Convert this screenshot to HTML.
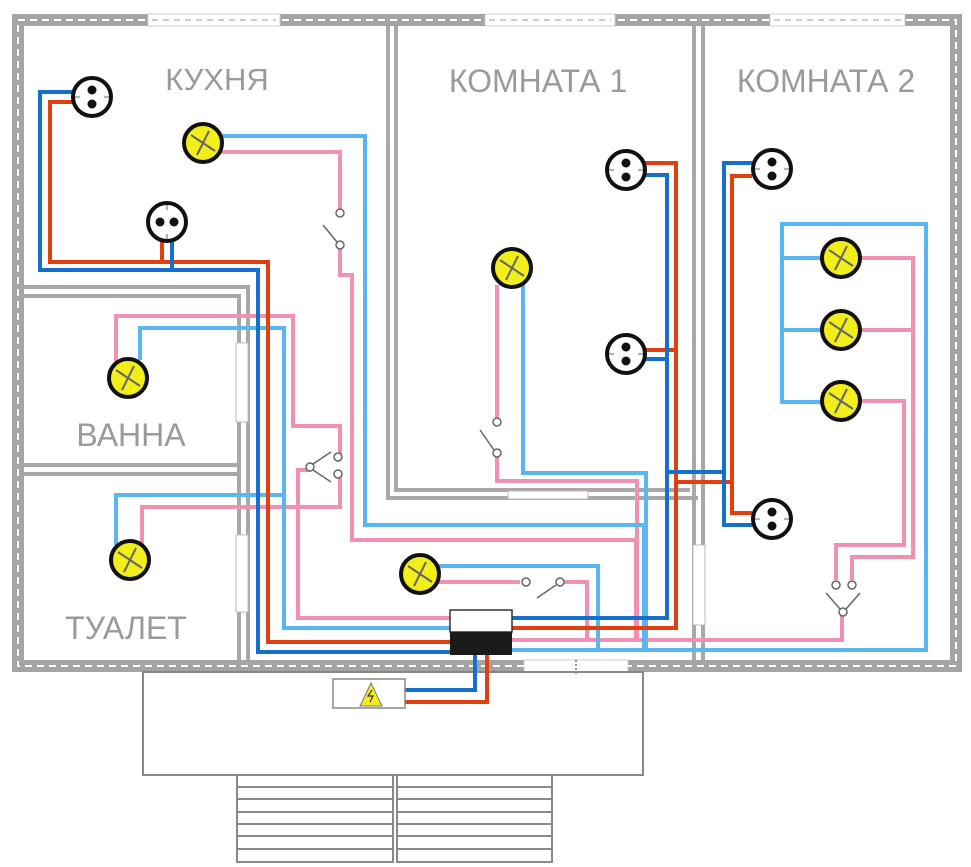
<!DOCTYPE html>
<html><head><meta charset="utf-8"><style>
html,body{margin:0;padding:0;background:#fff;width:971px;height:867px;overflow:hidden}
text{font-family:"Liberation Sans",sans-serif;fill:#9a9a9a}
</style></head><body>
<svg width="971" height="867" viewBox="0 0 971 867" xmlns="http://www.w3.org/2000/svg">
<defs>
<g id="lamp"><circle r="19" fill="#f2ee1a" stroke="#111" stroke-width="4"/><line x1="-12" y1="-8" x2="12" y2="8" stroke="#666" stroke-width="2"/><line x1="-6" y1="12" x2="6" y2="-12" stroke="#666" stroke-width="2"/></g>
<g id="sock"><circle r="19" fill="#fff" stroke="#111" stroke-width="4"/><circle cx="0" cy="-7" r="4.5" fill="#111"/><circle cx="0" cy="7" r="4.5" fill="#111"/><line x1="-17" y1="0" x2="-12" y2="0" stroke="#666"/><line x1="12" y1="0" x2="17" y2="0" stroke="#666"/></g>
<g id="sockh"><circle r="19" fill="#fff" stroke="#111" stroke-width="4"/><circle cx="-7" cy="0" r="4.5" fill="#111"/><circle cx="7" cy="0" r="4.5" fill="#111"/><line x1="0" y1="-17" x2="0" y2="-12" stroke="#666"/><line x1="0" y1="12" x2="0" y2="17" stroke="#666"/></g>
</defs>
<rect x="18" y="20" width="938" height="646" fill="none" stroke="#a4a4a4" stroke-width="12"/>
<rect x="18" y="20" width="938" height="646" fill="none" stroke="#fff" stroke-width="2" stroke-dasharray="7 5"/>
<rect x="148" y="14" width="132" height="12" fill="#fff" stroke="#ccc"/><line x1="152" y1="20" x2="276" y2="20" stroke="#bbb" stroke-width="1.5" stroke-dasharray="6 5"/>
<rect x="485" y="14" width="130" height="12" fill="#fff" stroke="#ccc"/><line x1="489" y1="20" x2="611" y2="20" stroke="#bbb" stroke-width="1.5" stroke-dasharray="6 5"/>
<rect x="770" y="14" width="135" height="12" fill="#fff" stroke="#ccc"/><line x1="774" y1="20" x2="901" y2="20" stroke="#bbb" stroke-width="1.5" stroke-dasharray="6 5"/>
<rect x="524" y="660" width="104" height="12" fill="#fff" stroke="#ccc"/><line x1="576" y1="660" x2="576" y2="675" stroke="#333" stroke-dasharray="2 2"/>
<g fill="none" stroke="#a8a8a8" stroke-width="4">
<path d="M388 26 V498 H698"/><path d="M396 26 V490 H690"/>
<path d="M694 26 V660"/><path d="M703 26 V660"/>
<path d="M24 287 H248 V660"/><path d="M24 296 H239 V660"/>
<path d="M24 465 H239"/><path d="M24 474 H239"/>
</g>
<rect x="508" y="491" width="80" height="8" fill="#fff" stroke="#bbb"/>
<rect x="236" y="343" width="12" height="79" fill="#fff" stroke="#bbb"/>
<rect x="236" y="535" width="12" height="77" fill="#fff" stroke="#bbb"/>
<rect x="693" y="545" width="12" height="80" fill="#fff" stroke="#bbb"/>
<rect x="143" y="672" width="500" height="103" fill="none" stroke="#888" stroke-width="2"/>
<g fill="none" stroke="#888" stroke-width="2">
<rect x="237" y="775" width="156" height="87"/><rect x="397" y="775" width="155" height="87"/>
<path d="M237 787H393M237 799H393M237 812H393M237 824H393M237 836H393M237 849H393M397 787H552M397 799H552M397 812H552M397 824H552M397 836H552M397 849H552"/>
</g>
<text x="217" y="90" font-size="31" text-anchor="middle">КУХНЯ</text>
<text x="538" y="92" font-size="32" text-anchor="middle">КОМНАТА 1</text>
<text x="826" y="92" font-size="32" text-anchor="middle">КОМНАТА 2</text>
<text x="131" y="446" font-size="32" text-anchor="middle">ВАННА</text>
<text x="126" y="639" font-size="32" text-anchor="middle">ТУАЛЕТ</text>
<g fill="none" stroke-width="4" stroke-linejoin="miter">
<g stroke="#f290b4">
<path d="M220 152 H340 V210"/><path d="M340 243 V275 H352 V540 H636 V638"/>
<path d="M116 362 V316 H293 V426 H340 V455"/><path d="M340 475 V507 H142 V545"/>
<path d="M310 470 H298 V618 H450"/>
<path d="M497 285 V420"/><path d="M497 455 V481 H637 V638"/>
<path d="M512 640 H842 V612"/>
<path d="M858 258 H913 V557 H852 V580"/><path d="M858 330 H913"/>
<path d="M858 401 H904 V545 H836 V580"/>
<path d="M436 582 H520"/><path d="M562 582 H587 V640"/>
</g>
<g stroke="#5ab6f2">
<path d="M220 136 H365 V525 H644 V650"/>
<path d="M140 360 V328 H284 V628 H450"/>
<path d="M116 545 V495 H284"/>
<path d="M523 285 V473 H646 V650"/>
<path d="M436 566 H598 V650"/>
<path d="M512 650 H926 V224 H782 V402 H823"/><path d="M782 258 H823"/><path d="M782 330 H823"/>
</g>
<g stroke="#e0400e">
<path d="M73 102 H50 V262 H268 V642 H450"/><path d="M162 240 V262"/>
<path d="M512 628 H676 V163 H645"/><path d="M645 350 H676"/>
<path d="M676 482 H732"/><path d="M752 176 H732 V513 H752"/>
<path d="M487 655 V702 H405"/>
</g>
<g stroke="#1470cc">
<path d="M73 92 H40 V270 H258 V652 H450"/><path d="M172 240 V270"/>
<path d="M512 618 H667 V175 H645"/><path d="M645 359 H667"/>
<path d="M667 472 H724"/><path d="M752 163 H724 V525 H752"/>
<path d="M475 655 V690 H405"/>
</g>
</g>
<g fill="#fff" stroke="#666" stroke-width="1.5">
<circle cx="340" cy="213" r="4"/><circle cx="340" cy="245" r="4"/><line x1="323" y1="225" x2="337" y2="242"/>
<circle cx="497" cy="422" r="4"/><circle cx="497" cy="453" r="4"/><line x1="480" y1="430" x2="494" y2="450"/>
<circle cx="526" cy="582" r="4"/><circle cx="560" cy="582" r="4"/><line x1="537" y1="598" x2="556" y2="585"/>
<circle cx="310" cy="467" r="4"/><circle cx="338" cy="457" r="4"/><circle cx="338" cy="474" r="4"/><line x1="313" y1="464" x2="331" y2="452"/><line x1="313" y1="470" x2="331" y2="482"/>
<circle cx="836" cy="585" r="4"/><circle cx="852" cy="585" r="4"/><circle cx="843" cy="612" r="4"/><line x1="826" y1="593" x2="840" y2="609"/><line x1="860" y1="593" x2="846" y2="609"/>
</g>
<use href="#lamp" x="203" y="143"/><use href="#lamp" x="512" y="268"/><use href="#lamp" x="420" y="574"/>
<use href="#lamp" x="128" y="378"/><use href="#lamp" x="130" y="560"/>
<use href="#lamp" x="841" y="258"/><use href="#lamp" x="841" y="330"/><use href="#lamp" x="841" y="401"/>
<use href="#sock" x="92" y="97"/><use href="#sockh" x="167" y="222"/>
<use href="#sock" x="626" y="170"/><use href="#sock" x="626" y="354"/>
<use href="#sock" x="772" y="169"/><use href="#sock" x="772" y="519"/>
<rect x="450" y="610" width="62" height="22" fill="#fff" stroke="#333" stroke-width="1.5"/>
<rect x="450" y="632" width="62" height="23" fill="#1a1a1a"/>
<rect x="333" y="679" width="72" height="29" fill="#fff" stroke="#888" stroke-width="1.5"/>
<polygon points="371,683 360,706 382,706" fill="#f2ee1a" stroke="#777"/>
<path d="M372 690 l-4 6 h5 l-3 6" fill="none" stroke="#333" stroke-width="1.2"/>
</svg>
</body></html>
